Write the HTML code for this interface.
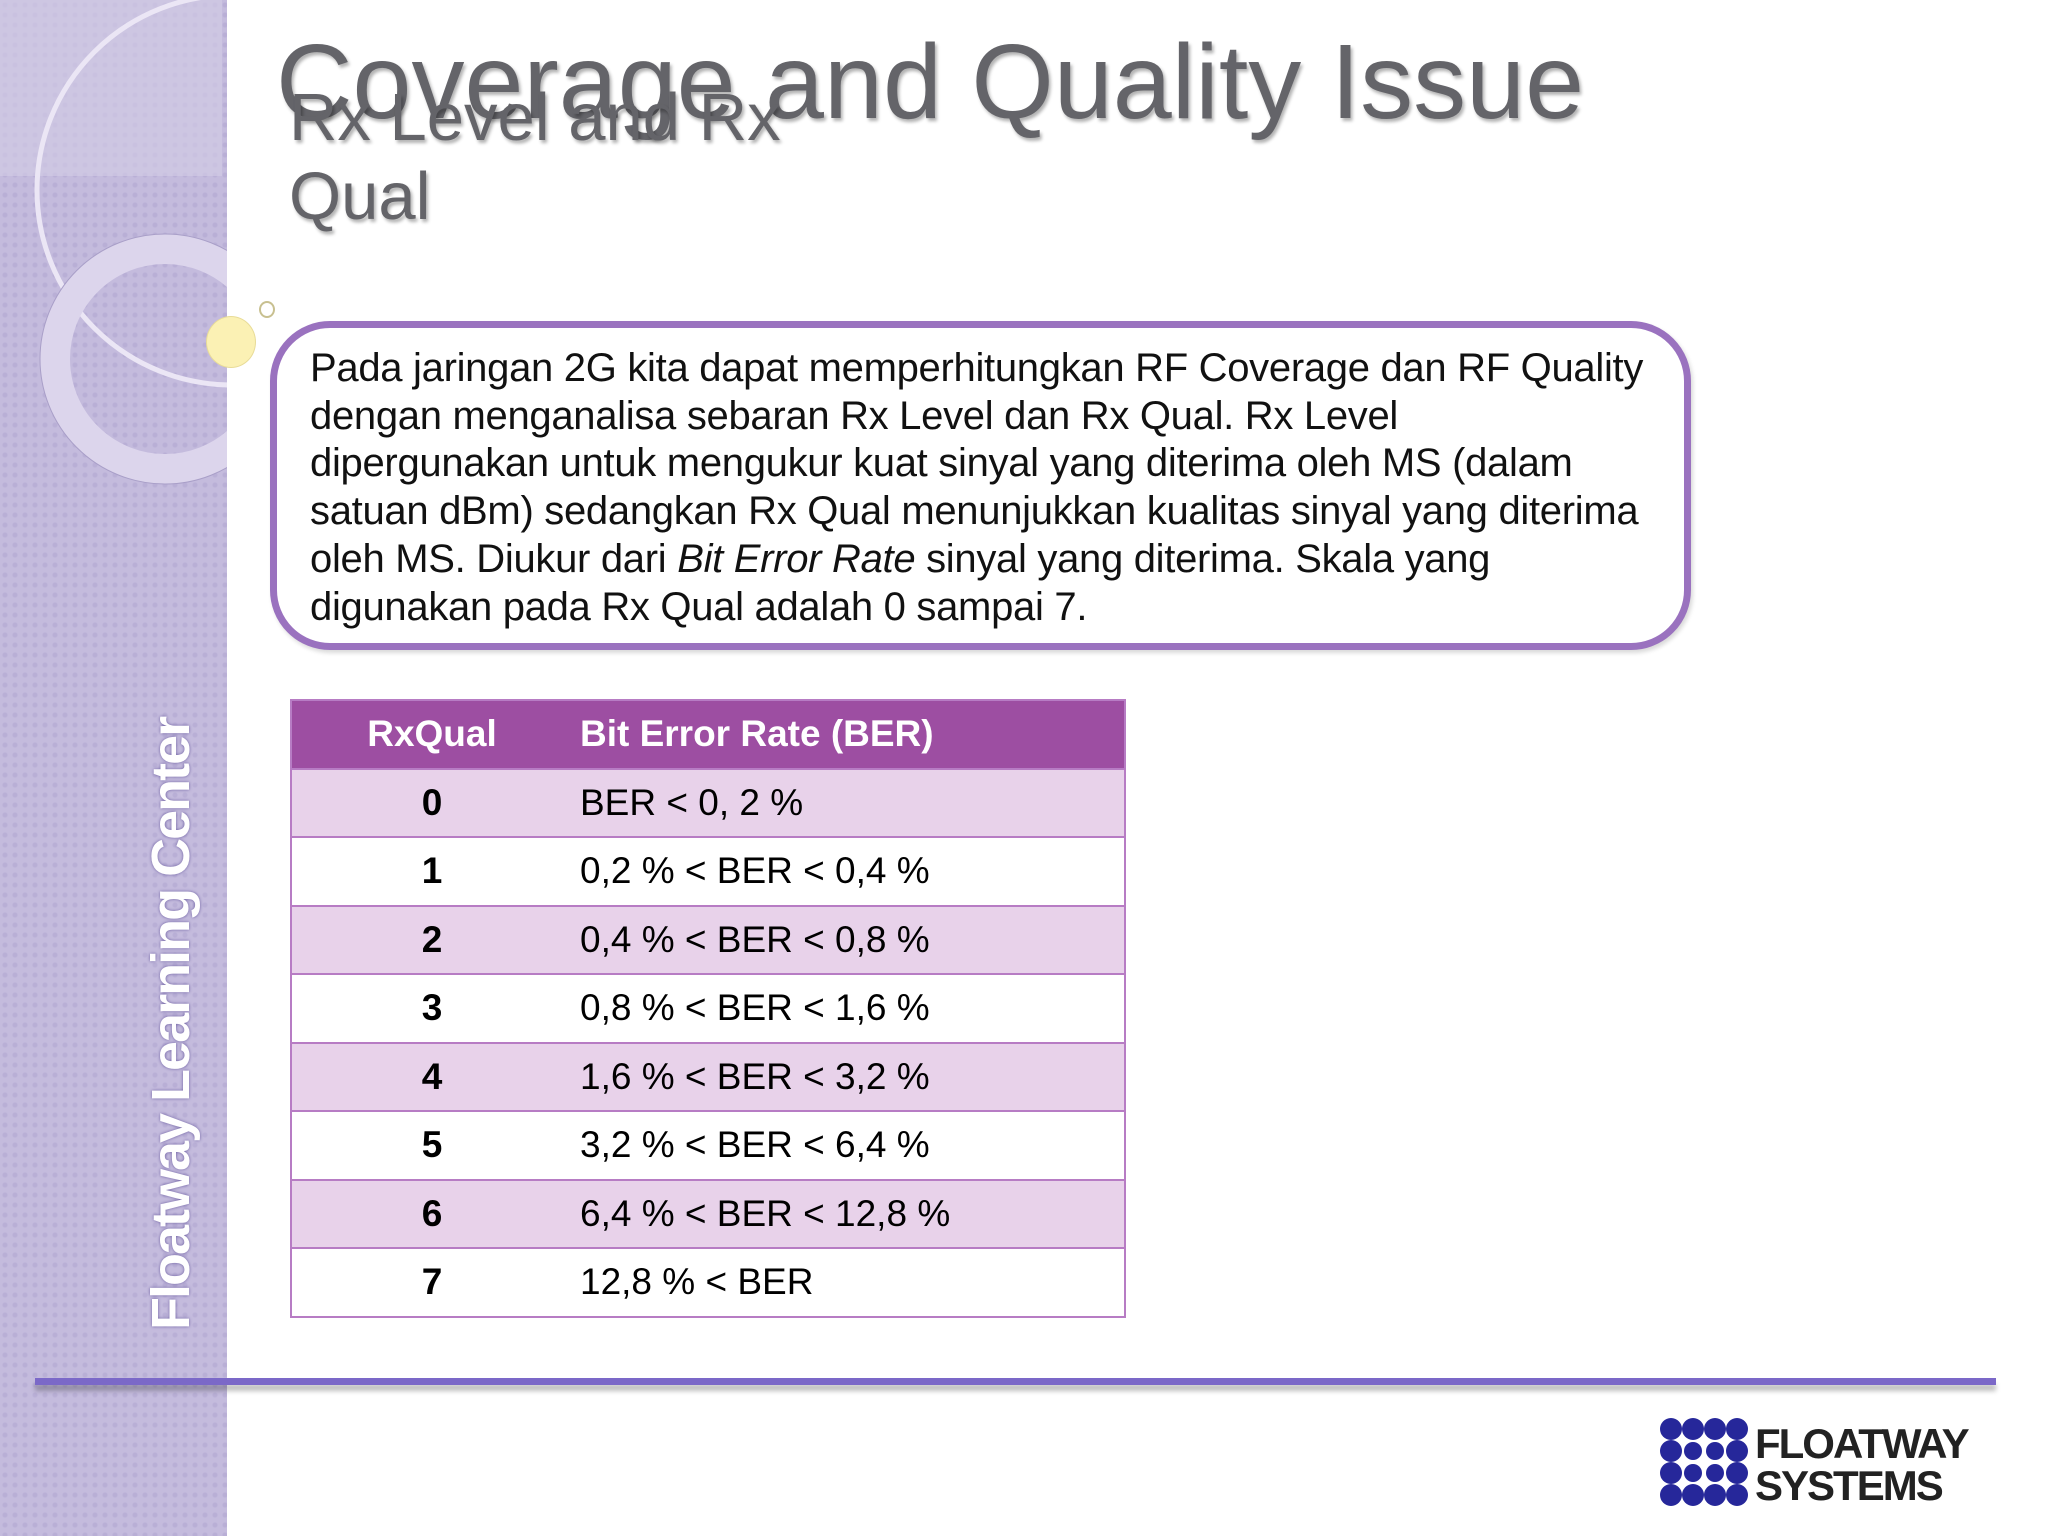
<!DOCTYPE html>
<html><head><meta charset="utf-8"><style>
html,body{margin:0;padding:0}
body{width:2048px;height:1536px;position:relative;overflow:hidden;background:#fff;font-family:"Liberation Sans",sans-serif}
.abs{position:absolute}
#panel{left:0;top:0;width:227px;height:1536px;background:#c4bbdd;overflow:hidden;
background-image:radial-gradient(circle,#b9afd6 2px,transparent 3px);background-size:10px 10px}
.title{color:#646469;text-shadow:2px 3px 3px rgba(0,0,0,.3);white-space:nowrap}
#box{left:270px;top:321px;width:1407px;height:315px;border:7px solid #9a72bf;border-radius:60px;background:#fff;box-shadow:2px 3px 4px rgba(0,0,0,.15)}
#box p{margin:0;position:absolute;left:33px;top:17px;font-size:40px;line-height:47.7px;color:#111;letter-spacing:-0.3px;white-space:nowrap}
table{position:absolute;left:290px;top:699px;width:836px;border-collapse:collapse;font-size:37px}
td,th{height:66.5px;border-top:2px solid #b77cc4;border-bottom:2px solid #b77cc4;padding:0;text-align:left}
tr td:first-child,tr th:first-child{border-left:2px solid #b77cc4}
tr td:last-child,tr th:last-child{border-right:2px solid #b77cc4}
th{background:#9d4ea2;color:#fff;font-weight:bold}
tr.odd td{background:#e8d2ea}
td.q{text-align:center;font-weight:bold;width:280px}
th.q{text-align:center}
td.b,th.b{padding-left:8px}
</style></head><body>
<div id="panel" class="abs">
<svg width="227" height="1536" style="position:absolute;left:0;top:0">
<rect x="0" y="0" width="222" height="176" fill="#d4cde6" opacity=".6"/>
<circle cx="232" cy="190" r="195" fill="none" stroke="#ebe6f5" stroke-width="5"/>
<circle cx="165" cy="359" r="110" fill="none" stroke="#dcd5ec" stroke-width="30"/>
<circle cx="165" cy="359" r="125" fill="none" stroke="#a99fc8" stroke-width="1"/>
</svg>
<div class="abs" style="left:140px;top:1330px;transform:rotate(-90deg);transform-origin:0 0;color:#fff;font-weight:bold;font-size:54px;white-space:nowrap;letter-spacing:-2px;text-shadow:0 0 3px #6a5ca0">Floatway Learning Center</div>
</div>
<div class="abs" style="left:206px;top:316px;width:48px;height:50px;border-radius:50%;background:#fbf1b4;border:1px solid #e8dc98"></div>
<div class="abs" style="left:259px;top:301px;width:12px;height:13px;border-radius:50%;border:2px solid #c8c090"></div>
<div class="abs title" style="left:276px;top:22px;font-size:106px;line-height:120px">Coverage and Quality Issue</div>
<div class="abs title" style="left:289px;top:78px;font-size:67px;line-height:79px">Rx Level and Rx<br>Qual</div>
<div id="box" class="abs"><p>Pada jaringan 2G kita dapat memperhitungkan RF Coverage dan RF Quality<br>dengan menganalisa sebaran Rx Level dan Rx Qual. Rx Level<br>dipergunakan untuk mengukur kuat sinyal yang diterima oleh MS (dalam<br>satuan dBm) sedangkan Rx Qual menunjukkan kualitas sinyal yang diterima<br>oleh MS. Diukur dari <i>Bit Error Rate</i> sinyal yang diterima. Skala yang<br>digunakan pada Rx Qual adalah 0 sampai 7.</p></div>
<table>
<tr><th class="q">RxQual</th><th class="b">Bit Error Rate (BER)</th></tr>
<tr class="odd"><td class="q">0</td><td class="b">BER &lt; 0, 2 %</td></tr>
<tr><td class="q">1</td><td class="b">0,2 % &lt; BER &lt; 0,4 %</td></tr>
<tr class="odd"><td class="q">2</td><td class="b">0,4 % &lt; BER &lt; 0,8 %</td></tr>
<tr><td class="q">3</td><td class="b">0,8 % &lt; BER &lt; 1,6 %</td></tr>
<tr class="odd"><td class="q">4</td><td class="b">1,6 % &lt; BER &lt; 3,2 %</td></tr>
<tr><td class="q">5</td><td class="b">3,2 % &lt; BER &lt; 6,4 %</td></tr>
<tr class="odd"><td class="q">6</td><td class="b">6,4 % &lt; BER &lt; 12,8 %</td></tr>
<tr><td class="q">7</td><td class="b">12,8 % &lt; BER</td></tr>
</table>
<div class="abs" style="left:35px;top:1378px;width:1961px;height:7px;background:#7b68c8;box-shadow:0 6px 5px rgba(0,0,0,.25)"></div>
<div class="abs" style="left:1659px;top:1417px;width:310px;height:95px">
<svg width="95" height="95" style="position:absolute;left:0;top:0">
<g fill="#26279a">
<circle cx="12" cy="12" r="11"/><circle cx="34" cy="12" r="11"/><circle cx="56" cy="12" r="11"/><circle cx="78" cy="12" r="11"/>
<circle cx="12" cy="34" r="11"/><circle cx="34" cy="34" r="9"/><circle cx="56" cy="34" r="9"/><circle cx="78" cy="34" r="11"/>
<circle cx="12" cy="56" r="11"/><circle cx="34" cy="56" r="9"/><circle cx="56" cy="56" r="9"/><circle cx="78" cy="56" r="11"/>
<circle cx="12" cy="78" r="11"/><circle cx="34" cy="78" r="11"/><circle cx="56" cy="78" r="11"/><circle cx="78" cy="78" r="11"/>
</g></svg>
<div class="abs" style="left:96px;top:6px;font-weight:bold;font-size:42px;line-height:42px;color:#222;letter-spacing:-2px">FLOATWAY<br>SYSTEMS</div>
</div>
</body></html>
